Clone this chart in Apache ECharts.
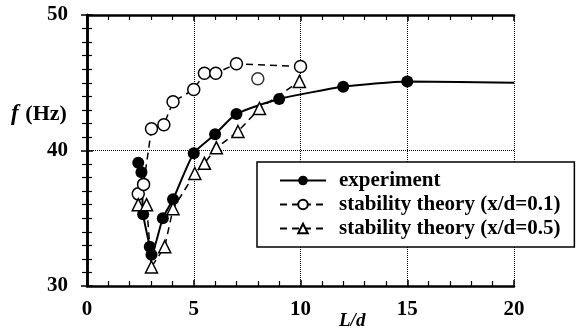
<!DOCTYPE html>
<html>
<head>
<meta charset="utf-8">
<title>f vs L/d</title>
<script src="https://cdn.jsdelivr.net/npm/echarts@6/dist/echarts.min.js"></script>
<style>
  html, body { margin: 0; padding: 0; background: #fff; }
  #main { width: 586px; height: 336px; }
</style>
</head>
<body>
<div id="main"></div>
<script>
// experiment (filled circles, solid line) - last point is the curve end, no marker
var expX = [2.4, 2.55, 2.63, 2.94, 3.02, 3.55, 4.03, 5.0, 6.0, 7.0, 9.0, 12.0, 15.0, 20.0];
var expY = [39.1, 38.4, 35.3, 32.9, 32.3, 35.0, 36.4, 39.8, 41.2, 42.7, 43.8, 44.7, 45.1, 45.0];
// stability theory x/d=0.1 (open circles)
var s1X = [2.4, 2.65, 3.02, 3.6, 4.03, 5.0, 5.5, 6.03, 7.0, 10.0];
var s1Y = [36.8, 37.5, 41.6, 41.9, 43.6, 44.5, 45.7, 45.7, 46.4, 46.2];
var s1OffX = [8.0];
var s1OffY = [45.3];
// stability theory x/d=0.5 (open triangles)
var s2X = [2.4, 2.79, 3.02, 3.64, 4.03, 5.05, 5.5, 6.06, 7.07, 8.08, 9.95];
var s2Y = [36.0, 36.0, 31.4, 32.9, 35.7, 38.3, 39.05, 40.2, 41.4, 43.1, 45.1];

var names = ['experiment', 'stability theory (x/d=0.1)', 'stability theory (x/d=0.5)'];

function pairs(xs, ys) {
  return xs.map(function (x, i) { return [x, ys[i]]; });
}

var expData = pairs(expX, expY);
expData[expData.length - 1] = { value: expData[expData.length - 1], symbol: 'none' };

var serif = 'Liberation Serif';
var openStyle = { color: '#fff', borderColor: '#000', borderWidth: 1.5 };
var dashLine = { color: '#000', width: 1.5, type: [7, 5] };

function axisBase(pos, showLabel, min, max, interval, minorSplit, margin) {
  return {
    type: 'value', position: pos, min: min, max: max, interval: interval,
    axisLine: { show: true, lineStyle: { color: '#000', width: 2.5 } },
    axisTick: { show: true, inside: true, length: 6, lineStyle: { color: '#000', width: 1.5 } },
    minorTick: { show: true, splitNumber: minorSplit, length: 5, lineStyle: { color: '#000', width: 1.2 } },
    axisLabel: { show: showLabel, color: '#000', fontFamily: serif, fontWeight: 'bold', fontSize: 21, margin: margin },
    splitLine: { show: showLabel, lineStyle: { color: '#000', width: 1, type: 'dotted' } }
  };
}

var chart = echarts.init(document.getElementById('main'));
chart.setOption({
  backgroundColor: '#fff',
  animation: false,
  grid: { left: 87, right: 72, top: 15, bottom: 50 },
  xAxis: [axisBase('bottom', true, 0, 20, 5, 5, 13), axisBase('top', false, 0, 20, 5, 5, 0)],
  yAxis: [axisBase('left', true, 30, 50, 10, 10, 19), axisBase('right', false, 30, 50, 10, 10, 0)],
  legend: {
    data: names, orient: 'vertical', left: 257, top: 162,
    itemWidth: 46, itemHeight: 12, itemGap: 3,
    padding: [8, 14, 8, 22],
    borderColor: '#000', borderWidth: 1.5, backgroundColor: '#fff',
    textStyle: { fontFamily: serif, fontWeight: 'bold', fontSize: 21, color: '#000', padding: [0, 0, 0, 8] }
  },
  graphic: [
    { type: 'text', left: 11, top: 103, style: { text: '{i|f}  {b|(Hz)}', rich: {
      i: { fontFamily: serif, fontStyle: 'italic', fontWeight: 'bold', fontSize: 23, fill: '#000' },
      b: { fontFamily: serif, fontWeight: 'bold', fontSize: 22, fill: '#000' } } } },
    { type: 'text', left: 339, top: 312, style: { text: 'L/d', fontFamily: serif, fontStyle: 'italic', fontWeight: 'bold', fontSize: 19, fill: '#000' } }
  ],
  series: [
    { name: names[0], type: 'line', data: expData, smooth: 0.2, symbol: 'circle', symbolSize: 12,
      itemStyle: { color: '#000' }, lineStyle: { color: '#000', width: 2 }, z: 3 },
    { name: names[1], type: 'line', data: pairs(s1X, s1Y), symbol: 'circle', symbolSize: 12,
      itemStyle: openStyle, lineStyle: dashLine },
    { name: names[1], type: 'scatter', data: pairs(s1OffX, s1OffY), symbol: 'circle', symbolSize: 12,
      itemStyle: openStyle },
    { name: names[2], type: 'line', data: pairs(s2X, s2Y), symbol: 'triangle', symbolSize: 12,
      itemStyle: openStyle, lineStyle: dashLine }
  ]
});
</script>
</body>
</html>
